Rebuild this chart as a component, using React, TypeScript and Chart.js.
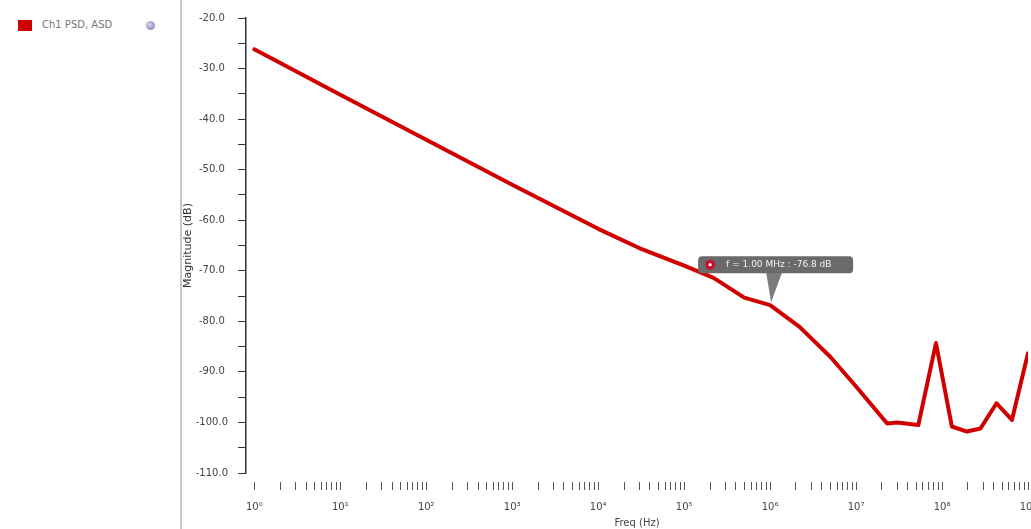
import React, { useEffect, useRef } from "react";
import { Chart, registerables } from "chart.js";

Chart.register(...registerables);

// Spectrum samples: frequency (Hz) and magnitude (dB)
const freqHz = [
  1, 10, 100, 1e3, 1e4, 3e4, 1e5, 2.2e5, 5e5, 1e6, 2.2e6, 5e6, 1e7,
  2.3e7, 3e7, 5.3e7, 8.5e7, 1.3e8, 1.95e8, 2.8e8, 4.3e8, 6.5e8, 1e9,
];
const magnitudeDb = [
  -26.2, -35.2, -44.1, -53.0, -61.7, -65.5, -69.0, -71.4, -75.3, -76.8, -81.1, -87.0, -92.9,
  -100.2, -100.0, -100.5, -84.3, -100.8, -101.8, -101.2, -96.2, -99.5, -86.3,
];

const seriesName = "Ch1 PSD, ASD";
const seriesColor = "#d10000";

// Axis ticks
const yTickValues = [-110, -105, -100, -95, -90, -85, -80, -75, -70, -65, -60, -55, -50, -45, -40, -35, -30, -25, -20];
const xDecades = [0, 1, 2, 3, 4, 5, 6, 7, 8, 9];
const xMinorSteps = [1, 2, 3, 4, 5, 6, 7, 8, 9];

// Point highlighted by the callout
const markerIndex = 9;

const SUP = ["⁰", "¹", "²", "³", "⁴", "⁵", "⁶", "⁷", "⁸", "⁹"];
const FONT = '"DejaVu Sans", "Liberation Sans", sans-serif';

const calloutPlugin = {
  id: "callout",
  afterDatasetsDraw(chart: any) {
    const { ctx } = chart;
    const xs = chart.scales.x;
    const ys = chart.scales.y;
    const f = freqHz[markerIndex];
    const v = magnitudeDb[markerIndex];
    const px = xs.getPixelForValue(f);
    const py = ys.getPixelForValue(v);
    const text = `f = ${(f / 1e6).toFixed(2)} MHz : ${v.toFixed(1)} dB`;

    const w = 155;
    const h = 17;
    const left = px - 72;
    const top = py - 49;

    ctx.save();
    // pointer
    ctx.fillStyle = "#7c7c7c";
    ctx.beginPath();
    ctx.moveTo(px - 4, top + h - 1);
    ctx.lineTo(px + 12, top + h - 1);
    ctx.lineTo(px + 1, py - 3);
    ctx.closePath();
    ctx.fill();

    // box
    ctx.fillStyle = "#6a6a6a";
    ctx.beginPath();
    const r = 4;
    ctx.moveTo(left + r, top);
    ctx.lineTo(left + w - r, top);
    ctx.quadraticCurveTo(left + w, top, left + w, top + r);
    ctx.lineTo(left + w, top + h - r);
    ctx.quadraticCurveTo(left + w, top + h, left + w - r, top + h);
    ctx.lineTo(left + r, top + h);
    ctx.quadraticCurveTo(left, top + h, left, top + h - r);
    ctx.lineTo(left, top + r);
    ctx.quadraticCurveTo(left, top, left + r, top);
    ctx.closePath();
    ctx.fill();

    // icon
    ctx.fillStyle = "#c8102e";
    ctx.beginPath();
    ctx.arc(left + 12, top + h / 2, 5, 0, Math.PI * 2);
    ctx.fill();
    ctx.fillStyle = "#ffffff";
    ctx.beginPath();
    ctx.arc(left + 12, top + h / 2, 1.6, 0, Math.PI * 2);
    ctx.fill();

    // text
    ctx.fillStyle = "#f2f2f2";
    ctx.font = `9px ${FONT}`;
    ctx.textBaseline = "middle";
    ctx.textAlign = "left";
    ctx.fillText(text, left + 28, top + h / 2 + 0.5);
    ctx.restore();
  },
};

function isDecade(v: number) {
  const l = Math.log10(v);
  return Math.abs(l - Math.round(l)) < 1e-9;
}

export default function App() {
  const canvasRef = useRef<HTMLCanvasElement | null>(null);

  useEffect(() => {
    if (!canvasRef.current) return;
    const xTicks: number[] = [];
    xDecades.forEach((d) => {
      xMinorSteps.forEach((m) => {
        const val = m * Math.pow(10, d);
        if (val <= 1e9 * 1.0000001) xTicks.push(val);
      });
    });

    const chart = new Chart(canvasRef.current, {
      type: "line",
      data: {
        datasets: [
          {
            label: seriesName,
            data: freqHz.map((f, i) => ({ x: f, y: magnitudeDb[i] })),
            borderColor: seriesColor,
            backgroundColor: seriesColor,
            borderWidth: 4,
            pointRadius: 0,
            tension: 0,
            borderJoinStyle: "round",
            borderCapStyle: "round",
          },
        ],
      },
      options: {
        animation: false,
        responsive: true,
        maintainAspectRatio: false,
        layout: { padding: { top: 18, right: 3, left: 0, bottom: 0 } },
        plugins: {
          legend: { display: false },
          tooltip: { enabled: false },
        },
        scales: {
          x: {
            type: "logarithmic",
            min: 0.8,
            max: 1e9,
            border: { display: false },
            grid: {
              display: true,
              drawOnChartArea: false,
              drawTicks: true,
              tickLength: 17,
              tickBorderDash: [0, 9, 8, 0],
              tickColor: "#555",
              tickWidth: 1,
            },
            afterBuildTicks: (scale: any) => {
              scale.ticks = xTicks.map((v) => ({ value: v }));
            },
            afterFit: (scale: any) => {
              scale.height = 56;
              scale.paddingLeft = 0;
              scale.paddingRight = 0;
            },
            ticks: {
              autoSkip: false,
              maxRotation: 0,
              minRotation: 0,
              padding: 11,
              color: "#444",
              font: { family: FONT, size: 10 },
              callback: (value: any) => {
                const v = Number(value);
                if (!isDecade(v)) return "";
                return "10" + SUP[Math.round(Math.log10(v))];
              },
            },
            title: {
              display: true,
              text: "Freq (Hz)",
              color: "#444",
              font: { family: FONT, size: 10 },
              padding: { top: 0, bottom: 0 },
            },
          },
          y: {
            type: "linear",
            min: -110,
            max: -20,
            border: { display: true, color: "#333", width: 1.5 },
            grid: {
              display: true,
              drawOnChartArea: false,
              drawTicks: true,
              tickLength: 8,
              tickColor: "#333",
              tickWidth: 1,
            },
            afterBuildTicks: (scale: any) => {
              scale.ticks = yTickValues.map((v) => ({ value: v }));
            },
            afterFit: (scale: any) => {
              scale.width = 64;
            },
            ticks: {
              padding: 10,
              crossAlign: "center",
              color: "#444",
              font: { family: FONT, size: 10 },
              callback: (value: any) => {
                const v = Number(value);
                return v % 10 === 0 ? v.toFixed(1) : "";
              },
            },
            title: {
              display: true,
              text: "Magnitude (dB)",
              color: "#333",
              font: { family: FONT, size: 11 },
              padding: { top: 0, bottom: 0 },
            },
          },
        },
      },
      plugins: [calloutPlugin],
    } as any);

    return () => chart.destroy();
  }, []);

  return (
    <div
      style={{
        position: "fixed",
        left: 0,
        top: 0,
        width: 1031,
        height: 529,
        display: "flex",
        background: "#ffffff",
        fontFamily: FONT,
      }}
    >
      <div
        style={{
          position: "relative",
          width: 180,
          height: 529,
          borderRight: "2px solid #c8c8c8",
          flex: "0 0 auto",
        }}
      >
        <div
          style={{
            position: "absolute",
            left: 18,
            top: 20,
            width: 14,
            height: 11,
            background: seriesColor,
          }}
        />
        <div
          style={{
            position: "absolute",
            left: 42,
            top: 18,
            fontSize: 10,
            lineHeight: "14px",
            color: "#777",
            whiteSpace: "nowrap",
          }}
        >
          {seriesName}
        </div>
        <div
          style={{
            position: "absolute",
            left: 146,
            top: 21,
            width: 9,
            height: 9,
            borderRadius: "50%",
            background: "radial-gradient(circle at 40% 40%, #d8d8f0 0%, #9a9ac6 60%, #7a7ab0 100%)",
          }}
        />
      </div>
      <div style={{ position: "relative", width: 849, height: 529, flex: "0 0 auto" }}>
        <canvas ref={canvasRef} />
      </div>
    </div>
  );
}
